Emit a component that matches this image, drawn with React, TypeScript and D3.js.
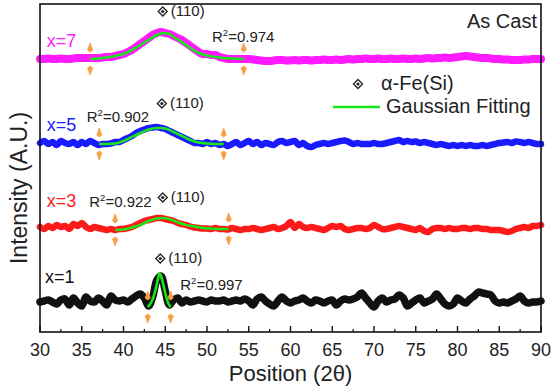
import React from 'react';
import * as d3 from 'd3';

const W = 552;
const H = 392;
const M = { top: 4, right: 11, bottom: 60, left: 40 };
const FONT = "'Liberation Sans', Arial, sans-serif";

// 2θ grid of the scans (0.5° steps)
const THETA = d3.range(121).map(i => 30 + i * 0.5);

const SAMPLES = ['x=1', 'x=3', 'x=5', 'x=7'];
const COLORS = ['#111111', '#ff1a1a', '#1a1aff', '#ff1aff'];
const WIDTHS = [7.5, 6.5, 6.5, 8];
const OFFSETS = [31, 104, 189, 273];
const R2 = ['0.997', '0.922', '0.902', '0.974'];

// intensity above each stacking offset (a.u.)
const SCAN_X1 = [
  -1, 0, 1, -1, -3, 1, 2, -4, 3, -2,
  -5, 4, 0, -1, 3, 0, -4, 5, 1, 0,
  1, -1, 2, 5, 7, 3, -5, 4, 21, 25,
  10, -4, 1, 3, -2, 1, -1, 0, 1, 0,
  -1, 1, 0, 0, 1, -1, 0, 1, 0, 2,
  0, -4, 2, 4, 0, -3, -5, 0, 4, 0,
  -2, 0, 1, 3, 0, -2, 1, 0, -2, 0,
  1, -4, 0, 2, 1, 2, 4, 8, 3, -2,
  -6, 0, 3, -1, 1, 2, 6, 3, -5, -2,
  1, 3, -2, 0, 2, 7, 2, -3, -5, -3,
  3, 0, -2, 2, 5, 9, 8, 7, 6, 0,
  -2, -1, -2, 0, 2, 5, 0, -2, -1, -1,
  0,
];
const SCAN_X3 = [
  1, -1, 2, 0, 3, 1, 2, -1, 4, 2,
  5, 1, -1, 1, 0, -1, -2, -1, -2, -1,
  -1, 0, 1, 3, 5, 7, 8, 9, 10, 10,
  9, 8, 7, 5, 4, 3, 1.5, 0.5, 0, -0.5,
  -0.5, -1, 0, -1, -1, -1.5, 0, -1, -2, -1,
  -1, 0, -1, -2, -1, 0, 1, -1, 0, 2,
  6, 0, 4, 1, 0, 1, 0, -1, -2, 0,
  2, 1, 2, -1, -2, -1, 0, 0, -1, 0,
  3, 1, -1, -1, 0, 1, 2, 1, 0, -1,
  -2, 0, -3, -4, -1, 0, 0, -1, 0, -1,
  -1, 0, 0, -1, 0, 0, -1, -1, -2, -2,
  -2, -3, -4, -3, -1, 0, 1, 0, 2, 2,
  3,
];
const SCAN_X5 = [
  0, 2, -1, 1, -2, 2, 0, -1, 1, -2,
  1, -1, 2, 0, -2, -1, -1, -0.5, 1, 1,
  3, 5, 7, 10, 12, 13.5, 15, 15.5, 16, 15,
  14, 12, 10, 8, 6, 4, 2, 0, 0, -1,
  1, -1, 0, -2, -1, -3, -1, 1, -2, 0,
  2, -1, 1, -2, 0, -1, -2, 1, 2, 0,
  1, 2, -2, 0, -3, -4, -2, -1, 0, -1,
  0, 1, 2, 2.5, 1, -1, 0, -1, -1, -1,
  0, -1, -1, 0, 1, 2, 3, 1, 2, 1,
  1.5, 0, 1, 0, -1, -2, -1, -2, -3, -2,
  -3, -2, -3, -2, -3, -3, -2, -3, -2, -1,
  0, 0.5, 1, 0, 1.5, 1, 0, 1, 0, -1,
  -1,
];
const SCAN_X7 = [
  0, 0, 0.5, 0, 0, 0.5, 0, 0, 0.5, 1,
  1, 1, 1, 1, 1, 1.5, 2, 2, 3, 4,
  5, 7, 9, 12, 15, 18, 21, 24, 26, 27,
  26, 25, 23, 21, 19, 16, 13, 10, 7, 5,
  5, 4, 4, 2, 1, 0, 0, 0, 0, 0,
  0, -0.5, -1, -1.5, -2, -2, -1.5, -1, -1, -1.5,
  -1.5, -1, -1.5, -1, -1, -1.5, -1, -1, -0.5, -1,
  -1, -0.5, -1, -0.5, 0, -0.5, 0, 0, 0.5, 0,
  0, 0.5, 0, 0, 0.5, 0, 0, 0.5, 0, 0,
  0.5, 0, 0.5, 1, 0.5, 1, 1, 1.5, 1, 1.5,
  2, 2.5, 3, 2.5, 2, 1.5, 1, 1, 0.5, 0,
  0, -0.5, -0.5, -1, -1, -1, -0.5, -0.5, 0, 0,
  0,
];
const SCANS = [SCAN_X1, SCAN_X3, SCAN_X5, SCAN_X7];

// Gaussian fits, [2θ, intensity above offset]
const FIT_X1: [number, number][] = [
  [42.9, -6], [43.2, -3], [43.5, 2], [43.8, 10], [44.0, 17], [44.15, 23],
  [44.3, 27.5], [44.45, 26], [44.6, 22], [44.8, 15], [45.0, 8], [45.2, 2],
  [45.4, -3], [45.65, -6],
];
const FIT_X3: [number, number][] = [
  [39, -2], [40, -1.5], [41, 0.5], [42, 3], [43, 7], [44, 9.5], [44.6, 10],
  [45.5, 9], [46.4, 6], [47.5, 3], [48.5, 1.5], [49.5, 0], [50.5, -0.5],
  [51.5, -1], [52.6, -1],
];
const FIT_X5: [number, number][] = [
  [37.1, -1], [38, -1], [39, -0.5], [40, 2], [41, 6], [42, 10], [43, 13.5],
  [44, 15], [44.5, 15], [45, 14.5], [46, 11], [47, 7], [48, 3], [49, 0.5],
  [50, -0.5], [51, -1], [52, -1],
];
const FIT_X7: [number, number][] = [
  [36, 0], [37, 0.5], [38, 1.5], [39, 3], [40, 5], [41, 9], [42, 14], [43, 19],
  [44, 24], [44.8, 26], [45.5, 25], [46, 22], [47, 17], [48, 11], [49, 6],
  [50, 3.5], [51, 2], [52, 1], [53, 0.5], [54.4, 0],
];
const FITS = [FIT_X1, FIT_X3, FIT_X5, FIT_X7];

// annotation anchors [2θ, intensity]
const LABEL_POS: [number, number][] = [[30.6, 49], [30.8, 125], [30.8, 201], [30.8, 285]];
const PEAK_POS: [number, number][] = [[44.4, 69], [44.7, 130], [44.6, 224], [44.7, 316]];
const R2_POS: [number, number][] = [[46.8, 42], [35.9, 125], [35.6, 210], [50.6, 290]];

const MAJOR = d3.range(30, 91, 5);
const MINOR = d3.range(32.5, 90, 5);

const Diamond: React.FC<{ x: number; y: number }> = ({ x, y }) => (
  <g transform={`translate(${x},${y})`}>
    <path d="M0,-4.5L4.5,0L0,4.5L-4.5,0Z" fill="#fff" stroke="#222" strokeWidth={1.3} />
    <circle r={1.6} fill="#222" />
  </g>
);

const Arrow: React.FC<{ x: number; y: number; dir: number }> = ({ x, y, dir }) => {
  // dir -1: pointing up, +1: pointing down
  const tip = y + dir * 16;
  const base = y + dir * 7;
  return (
    <path
      d={`M${x},${tip}L${x + 2.6},${base + dir * 2}L${x},${base}L${x - 2.6},${base + dir * 2}Z`}
      fill="#f7a045"
      stroke="#f7a045"
      strokeWidth={0.8}
    />
  );
};

export default function App() {
  const x = d3.scaleLinear().domain([30, 90]).range([M.left, W - M.right]);
  const y = d3.scaleLinear().domain([0, 328]).range([H - M.bottom, M.top]);
  const x0 = M.left;
  const x1 = W - M.right;
  const yB = H - M.bottom;

  const scanLine = (off: number) =>
    d3.line<number>()
      .x((_, i) => x(THETA[i]))
      .y(v => y(v + off))
      .curve(d3.curveCatmullRom.alpha(0.5));

  const fitLine = (off: number) =>
    d3.line<[number, number]>()
      .x(d => x(d[0]))
      .y(d => y(d[1] + off))
      .curve(d3.curveMonotoneX);

  return (
    <svg width={W} height={H} style={{ position: 'absolute', left: 0, top: 0, background: '#fff' }}
      fontFamily={FONT}>
      {SCANS.map((s, k) => (
        <path key={`s${k}`} d={scanLine(OFFSETS[k])(s) || ''} fill="none" stroke={COLORS[k]}
          strokeWidth={WIDTHS[k]} strokeLinejoin="round" strokeLinecap="round" />
      ))}
      {FITS.map((f, k) => (
        <path key={`f${k}`} d={fitLine(OFFSETS[k])(f) || ''} fill="none" stroke="#19e619"
          strokeWidth={2.6} />
      ))}
      {FITS.map((f, k) => {
        const a = f[0];
        const b = f[f.length - 1];
        return (
          <g key={`a${k}`}>
            <Arrow x={x(a[0])} y={y(a[1] + OFFSETS[k])} dir={-1} />
            <Arrow x={x(a[0])} y={y(a[1] + OFFSETS[k])} dir={1} />
            <Arrow x={x(b[0])} y={y(b[1] + OFFSETS[k])} dir={-1} />
            <Arrow x={x(b[0])} y={y(b[1] + OFFSETS[k])} dir={1} />
          </g>
        );
      })}

      {SAMPLES.map((s, k) => (
        <text key={`l${k}`} x={x(LABEL_POS[k][0])} y={y(LABEL_POS[k][1])} fontSize={18}
          fill={COLORS[k]}>{s}</text>
      ))}
      {PEAK_POS.map((p, k) => (
        <g key={`p${k}`}>
          <Diamond x={x(p[0])} y={y(p[1]) - 4.5} />
          <text x={x(p[0]) + 8} y={y(p[1])} fontSize={15} fill="#222">(110)</text>
        </g>
      ))}
      {R2_POS.map((p, k) => (
        <text key={`r${k}`} x={x(p[0])} y={y(p[1])} fontSize={15} fill="#222">
          R<tspan fontSize={9.5} dy={-6}>2</tspan><tspan dy={6}>={R2[k]}</tspan>
        </text>
      ))}

      {/* frame */}
      <rect x={x0} y={M.top} width={x1 - x0} height={yB - M.top} fill="none" stroke="#111"
        strokeWidth={1.6} />
      {MAJOR.map(t => (
        <line key={`M${t}`} x1={x(t)} x2={x(t)} y1={yB} y2={yB - 6} stroke="#111" strokeWidth={1.4} />
      ))}
      {MINOR.map(t => (
        <line key={`m${t}`} x1={x(t)} x2={x(t)} y1={yB} y2={yB - 3} stroke="#111" strokeWidth={1.2} />
      ))}
      {MAJOR.map(t => (
        <text key={`t${t}`} x={x(t)} y={yB + 24} fontSize={18} textAnchor="middle" fill="#222">{t}</text>
      ))}
      <text x={(x0 + x1) / 2} y={381} fontSize={22} textAnchor="middle" fill="#222">Position (2θ)</text>
      <text transform={`translate(27,188) rotate(-90)`} fontSize={23} textAnchor="middle" fill="#222">
        Intensity (A.U.)
      </text>

      {/* legend */}
      <text x={x1 - 4} y={28} fontSize={20} textAnchor="end" fill="#222">As Cast</text>
      <Diamond x={358} y={84} />
      <text x={381} y={90} fontSize={20} fill="#222">α-Fe(Si)</text>
      <line x1={333} x2={380} y1={107} y2={107} stroke="#19e619" strokeWidth={2.6} />
      <text x={386} y={113} fontSize={20} fill="#222">Gaussian Fitting</text>
    </svg>
  );
}
